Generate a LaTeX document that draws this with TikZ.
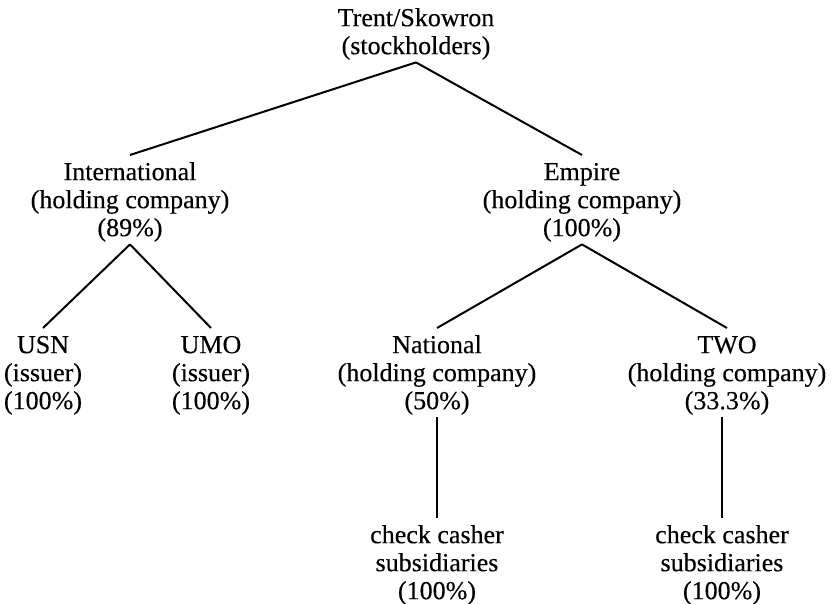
\documentclass[tikz,border=0pt]{standalone}
\usepackage{fontspec}
\setmainfont{Liberation Serif}[FakeBold=0.3]
\newcommand\mytopstrut{\rule{0pt}{25pt}}
\newcommand\mybotstrut{\rule[-8pt]{0pt}{8pt}}
\begin{document}
\begin{tikzpicture}[x=1pt,y=-1pt,
  lbl/.style={anchor=north, inner sep=0pt, align=center, font=\fontsize{26}{28}\selectfont},
  link/.style={line width=2pt}]
\useasboundingbox (0,0) rectangle (837,604);
\node[lbl] (ts) at (416,1) {\mytopstrut Trent/Skowron\\(stockholders)\mybotstrut};
\node[lbl] (intl) at (130,155) {\mytopstrut International\\(holding company)\\(89\%)\mybotstrut};
\node[lbl] (emp) at (582,155) {\mytopstrut Empire\\(holding company)\\(100\%)\mybotstrut};
\node[lbl] (usn) at (43,328) {\mytopstrut USN\\(issuer)\\(100\%)\mybotstrut};
\node[lbl] (umo) at (211,328) {\mytopstrut UMO\\(issuer)\\(100\%)\mybotstrut};
\node[lbl] (nat) at (437,328) {\mytopstrut National\\(holding company)\\(50\%)\mybotstrut};
\node[lbl] (two) at (727,328) {\mytopstrut TWO\\(holding company)\\(33.3\%)\mybotstrut};
\node[lbl] (cc1) at (437,518) {\mytopstrut check casher\\subsidiaries\\(100\%)};
\node[lbl] (cc2) at (722,518) {\mytopstrut check casher\\subsidiaries\\(100\%)};
\draw[link] (ts.south) -- (intl.north);
\draw[link] (ts.south) -- (emp.north);
\draw[link] (intl.south) -- (usn.north);
\draw[link] (intl.south) -- (umo.north);
\draw[link] (emp.south) -- (nat.north);
\draw[link] (emp.south) -- (two.north);
\draw[link] (cc1.north |- nat.south) -- (cc1.north);
\draw[link] (cc2.north |- two.south) -- (cc2.north);
\end{tikzpicture}
\end{document}
